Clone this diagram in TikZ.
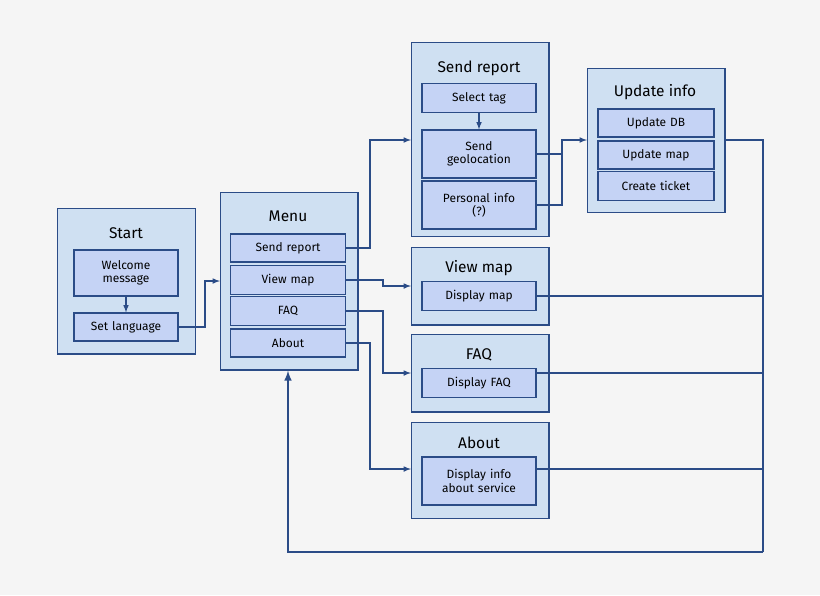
\documentclass[tikz,border=0pt]{standalone}
\usepackage{fontspec}
\setmainfont{Fira Sans}
\usetikzlibrary{positioning}
\definecolor{bgcol}{HTML}{F5F5F5}
\definecolor{edgecol}{HTML}{2B4C87}
\definecolor{outercol}{HTML}{CFE0F2}
\definecolor{innercol}{HTML}{C5D3F5}
\tikzset{
  outer/.style={rectangle, draw=edgecol, fill=outercol, line width=1pt, anchor=north west, inner sep=0pt},
  inner/.style={rectangle, draw=edgecol, fill=innercol, line width=0.8pt, text width=2.6cm, align=center, font=\fontsize{8.5}{9.5}\selectfont, inner sep=0pt},
  title/.style={font=\fontsize{11}{12}\selectfont},
  link/.style={draw=edgecol, line width=0.8pt, -latex}
}
\begin{document}
\begin{tikzpicture}[x=0.025cm, y=-0.025cm]
\fill[bgcol] (0,0) rectangle (820,595);
% outer boxes
\node[outer, minimum width=3.45cm, minimum height=3.63cm] (start) at (57,208) {};
\node[outer, minimum width=3.43cm, minimum height=4.43cm] (menu) at (220,192) {};
\node[outer, minimum width=3.43cm, minimum height=4.85cm] (send) at (411,42) {};
\node[outer, minimum width=3.43cm, minimum height=3.6cm] (update) at (587,68) {};
\node[outer, minimum width=3.43cm, minimum height=1.93cm] (view) at (411,247) {};
\node[outer, minimum width=3.43cm, minimum height=1.93cm] (faq) at (411,334) {};
\node[outer, minimum width=3.43cm, minimum height=2.4cm] (about) at (411,422) {};
% titles
\node[title] (tstart) at (126,233) {Start};
\node[title] (tmenu) at (288,216) {Menu};
\node[title] (tsend) at (479,68) {Send report};
\node[title] (tupdate) at (655,92) {Update info};
\node[title] (tview) at (479,268) {View map};
\node[title] (tfaq) at (479,355) {FAQ};
\node[title] (tabout) at (479,443) {About};
% inner boxes
\node[inner, minimum height=1.15cm] (welcome) at (126,273) {Welcome\\message};
\node[inner, minimum height=0.7cm] (lang) at (126,327) {Set language};
\node[inner, minimum height=0.7cm, text width=2.88cm] (msend) at (288,248) {Send report};
\node[inner, minimum height=0.72cm, text width=2.88cm] (mview) at (288,280) {View map};
\node[inner, minimum height=0.72cm, text width=2.88cm] (mfaq) at (288,311) {FAQ};
\node[inner, minimum height=0.7cm, text width=2.88cm] (mabout) at (288,343) {About};
\node[inner, minimum height=0.72cm, text width=2.85cm] (tag) at (479,98) {Select tag};
\node[inner, minimum height=1.2cm, text width=2.85cm] (geo) at (479,154) {Send\\geolocation};
\node[inner, minimum height=1.2cm, text width=2.85cm] (pinfo) at (479,205) {Personal info\\(?)};
\node[inner, minimum height=0.7cm, text width=2.9cm] (db) at (656,123) {Update DB};
\node[inner, minimum height=0.7cm, text width=2.9cm] (umap) at (656,155) {Update map};
\node[inner, minimum height=0.72cm, text width=2.9cm] (ticket) at (656,186) {Create ticket};
\node[inner, minimum height=0.72cm, text width=2.85cm] (dmap) at (479,296) {Display map};
\node[inner, minimum height=0.72cm, text width=2.85cm] (dfaq) at (479,383) {Display FAQ};
\node[inner, minimum height=1.2cm, text width=2.85cm] (dinfo) at (479,481) {Display info\\about service};
% connectors
\coordinate (back) at (763,552);
\draw[link] (welcome) -- (lang);
\draw[link] (tag) -- (geo);
\draw[link] (lang.east) -| (205,281) -- (menu.west |- 0,281);
\draw[link] (msend.east) -| (370,140) -- (send.west |- 0,140);
\draw[link] (mview.east) -| (383,286) -- (view.west |- 0,286);
\draw[link] (mfaq.east) -| (383,373) -- (faq.west |- 0,373);
\draw[link] (mabout.east) -| (370,469) -- (about.west |- 0,469);
\draw[link] (geo.east) -| (562,140) -- (update.west |- 0,140);
\draw[draw=edgecol, line width=0.8pt] (pinfo.east) -| (562,140);
\draw[draw=edgecol, line width=0.8pt] (update.east |- 0,140) -| (back);
\draw[draw=edgecol, line width=0.8pt] (dmap.east) -- (back |- dmap.east);
\draw[draw=edgecol, line width=0.8pt] (dfaq.east |- 0,373) -- (back |- 0,373);
\draw[draw=edgecol, line width=0.8pt] (dinfo.east |- 0,469) -- (back |- 0,469);
\draw[link, line width=1.4pt] (back) -- (288,552) -- (menu.south -| 288,0);
\end{tikzpicture}
\end{document}
